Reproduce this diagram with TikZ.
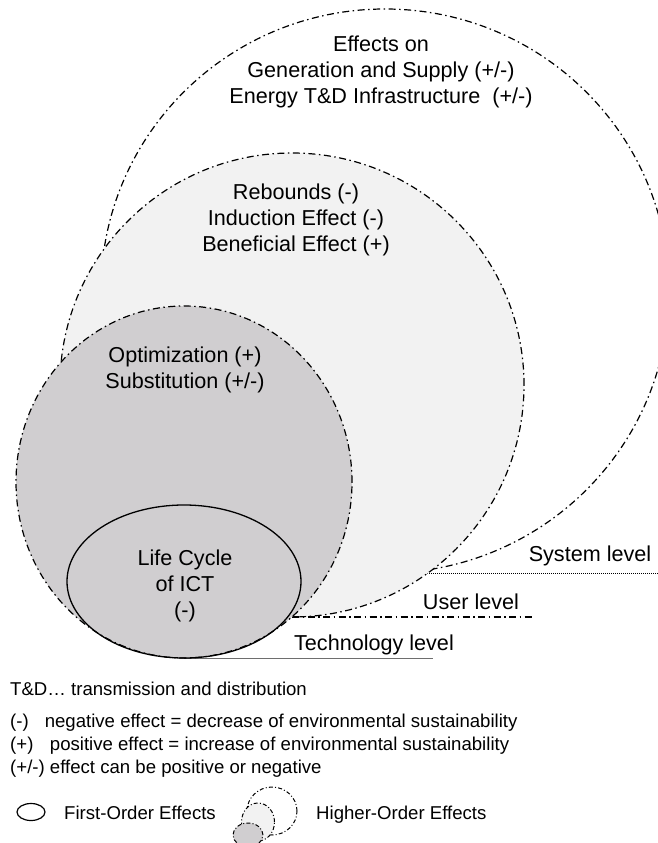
\documentclass[tikz,border=0pt]{standalone}
\usepackage{fontspec}
\setmainfont{Liberation Sans}
\usetikzlibrary{shapes.geometric}
\definecolor{lightfill}{RGB}{242,242,242}
\definecolor{darkfill}{RGB}{208,206,208}
\definecolor{techgray}{RGB}{110,110,110}
\begin{document}
\begin{tikzpicture}[x=1pt,y=-1pt,
  dashdot/.style={draw, line width=1.2pt, dash pattern=on 7pt off 3.5pt on 1.5pt off 3.5pt},
  smalldd/.style={draw, line width=1pt, dash pattern=on 4pt off 2.2pt on 1pt off 2.2pt},
  dotline/.style={line width=1pt, dash pattern=on 0.8pt off 1.2pt},
  techline/.style={draw=techgray, line width=1.6pt},
  ring/.style={ellipse, inner sep=0pt, outer sep=0pt},
  bigtxt/.style={font=\fontsize{21.6}{26}\selectfont, align=center, inner sep=0pt},
  lvltxt/.style={font=\fontsize{21.6}{26}\selectfont, inner sep=0pt, anchor=base},
  legtxt/.style={font=\fontsize{18.6}{22}\selectfont, inner sep=0pt, anchor=base west},
]
\useasboundingbox (0,0) rectangle (658,843);
\clip (0,0) rectangle (658,843);
% system level
\node[ring, dashdot, fill=white, minimum width=568pt, minimum height=564pt] (sys) at (385,291) {};
\coordinate (sysend) at (658,573);
\draw[dotline] (sys.south) -- (sysend);
% user level
\node[ring, dashdot, fill=lightfill, minimum width=464pt, minimum height=464pt] (usr) at (292,385) {};
\coordinate (usrend) at (533,617);
\draw[dashdot] (usr.south) -- (usrend);
% technology level
\coordinate (techstart) at (184,658.5);
\coordinate (techend) at (433,658.5);
\draw[techline] (techstart) -- (techend);
\node[ring, dashdot, fill=darkfill, minimum width=336pt, minimum height=352pt] (tech) at (184,482) {};
\node[ring, draw, line width=1.3pt, minimum width=234pt, minimum height=153pt] (lc) at (184,581.5) {};
% texts
\node[bigtxt] (sysT) at (381,72) {Effects on\\Generation and Supply (+/-)\\Energy T\&D Infrastructure\ \ (+/-)};
\node[bigtxt] (usrT) at (296,220) {Rebounds (-)\\Induction Effect (-)\\Beneficial Effect (+)};
\node[bigtxt] (techT) at (185,370) {Optimization (+)\\Substitution (+/-)};
\node[bigtxt] (lcT) at (185,586) {Life Cycle\\of ICT\\(-)};
\node[lvltxt] (sysL) at (590,561) {System level};
\node[lvltxt] (usrL) at (471,609) {User level};
\node[lvltxt] (techL) at (374,650) {Technology level};
% legend
\node[legtxt] (td) at (10,695) {T\&D… transmission and distribution};
\node[legtxt] (neg) at (10,727) {(-)\hspace{16pt}negative effect = decrease of environmental sustainability};
\node[legtxt] (pos) at (10,750) {(+)\hspace{16.5pt}positive effect = increase of environmental sustainability};
\node[legtxt] (pm) at (10,773) {(+/-) effect can be positive or negative};
\node[ring, draw, line width=1.2pt, minimum width=28pt, minimum height=17pt] (fo) at (31,812) {};
\node[legtxt] (foT) at (64,819) {First-Order Effects};
\node[ring, smalldd, fill=white, minimum width=50pt, minimum height=48pt] (hoA) at (272,811) {};
\node[ring, smalldd, fill=lightfill, minimum width=33pt, minimum height=38pt] (hoB) at (258,822) {};
\node[ring, smalldd, fill=darkfill, minimum width=30pt, minimum height=24pt] (hoC) at (248,835) {};
\node[legtxt] (hoT) at (316,819) {Higher-Order Effects};
\end{tikzpicture}
\end{document}
